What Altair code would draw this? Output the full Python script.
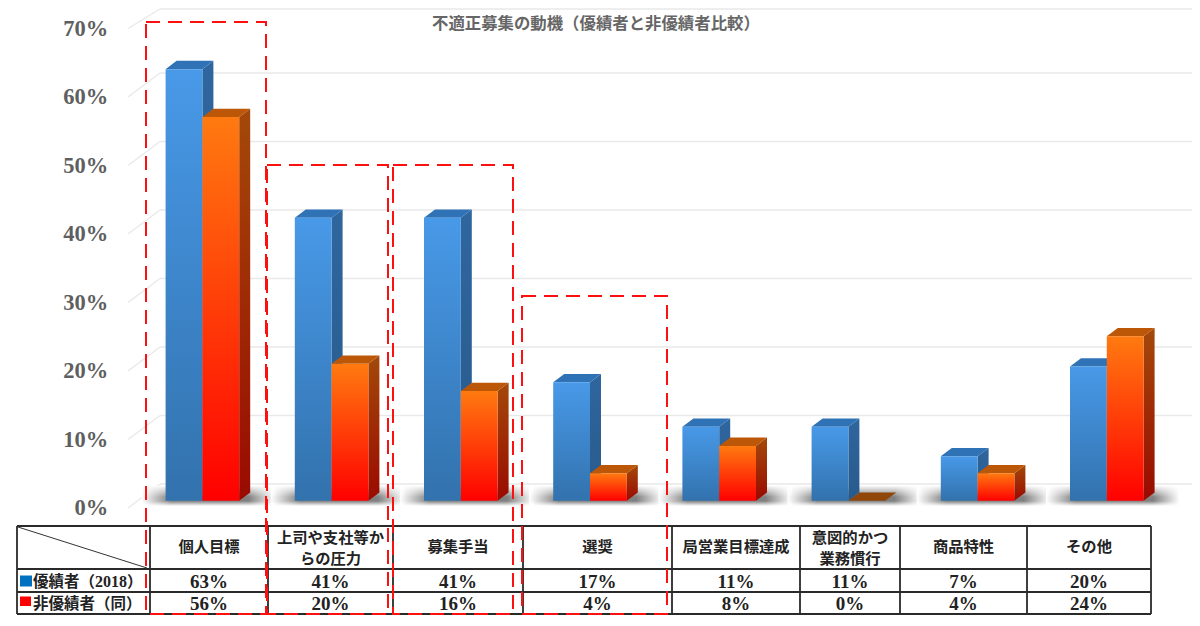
import altair as alt
import pandas as pd

# ---- chart values ----
categories = [["個人目標"], ["上司や支社等か", "らの圧力"], ["募集手当"], ["選奨"], ["局営業目標達成"],
              ["意図的かつ", "業務慣行"], ["商品特性"], ["その他"]]
top_performers = [63, 41, 41, 17, 11, 11, 7, 20]
other_performers = [56, 20, 16, 4, 8, 0, 4, 24]
# unrounded bar heights
top_heights = [63.0, 41.3, 41.3, 17.3, 10.8, 10.8, 6.5, 19.6]
other_heights = [56.0, 20.0, 16.0, 4.0, 8.0, 0.0, 4.0, 24.0]
axis_ticks = [0, 10, 20, 30, 40, 50, 60, 70]
title_text = "不適正募集の動機（優績者と非優績者比較）"

# ---- layout helpers (screen pixels <-> value scale) ----
Y0, PX = 500.7, 6.85
def yv(px):
    return (Y0 - px) / PX

XDOM = [8, 1192]
YDOM = [yv(618), yv(8)]
xs = alt.Scale(domain=XDOM, nice=False, zero=False)
ys = alt.Scale(domain=YDOM, nice=False, zero=False)

def X(f="x"):
    return alt.X(f"{f}:Q", scale=xs, axis=None)
def Y(f="y"):
    return alt.Y(f"{f}:Q", scale=ys, stack=False, title=None)

def lin(x2, y2, *stops):
    return alt.LinearGradient(gradient="linear", x1=0, x2=x2, y1=0, y2=y2,
                              stops=[alt.GradientStop(color=c, offset=o) for c, o in stops])
def grad(*stops):
    return lin(0, 1, *stops)

BAR_W, STEP, LEFT = 36.8, 129.2, 165.6
DX, DZ = 11.0, 8.3 / PX

layers = []

# y axis
layers.append(alt.Chart(pd.DataFrame({"y": axis_ticks})).mark_rule(opacity=0).encode(
    y=alt.Y("y:Q", scale=ys, stack=False, title=None,
            axis=alt.Axis(values=axis_ticks, labelExpr="datum.value + '%'", domain=False, ticks=False,
                          grid=False, offset=-99.7, labelPadding=0, labelOffset=7,
                          labelFont="Liberation Serif", labelFontWeight="bold", labelFontSize=22.5,
                          labelColor="#5f5f5f"))))

# wall grid lines
GRID = "#e9e9e9"
BACK = (Y0 - 484) / PX
FRONT = (Y0 - 508) / PX
top_limit = yv(9)
back = pd.DataFrame([{"x": 160, "x2": 1192, "y": min(v + BACK, top_limit)} for v in axis_ticks])
layers.append(alt.Chart(back).mark_rule(color=GRID, strokeWidth=1.6).encode(x=X(), x2="x2:Q", y=Y()))
side = pd.DataFrame([{"x": 128, "x2": 160, "y": v + FRONT, "y2": min(v + BACK, top_limit)} for v in axis_ticks])
layers.append(alt.Chart(side).mark_rule(color=GRID, strokeWidth=1.4).encode(x=X(), x2="x2:Q", y=Y(), y2="y2:Q"))

# floor shadows
shadow = pd.DataFrame([{"x": LEFT + i * STEP - 24, "x2": LEFT + i * STEP + 2 * BAR_W + 36,
                        "y": yv(486), "y2": yv(506)} for i in range(8)])
layers.append(alt.Chart(shadow).mark_rect(color=lin(1, 0, ("#ffffff", 0), ("#808080", 0.22),
                                                    ("#808080", 0.8), ("#ffffff", 1))).encode(
    x=X(), x2="x2:Q", y=Y(), y2="y2:Q"))
layers.append(alt.Chart(shadow).mark_rect(color=lin(0, 1, ("rgba(255,255,255,0.95)", 0), ("rgba(255,255,255,0)", 0.55),
                                                    ("rgba(255,255,255,0)", 0.75), ("rgba(255,255,255,1)", 1))).encode(
    x=X(), x2="x2:Q", y=Y(), y2="y2:Q"))

def faces(values, off, side_fill, top_fill, flat_fill):
    sd, tp = [], []
    for i, v in enumerate(values):
        l = LEFT + i * STEP + off
        r = l + BAR_W
        c = top_fill if v > 0 else flat_fill
        sd += [{"k": i, "x": r, "y": v, "y2": 0}, {"k": i, "x": r + DX, "y": v + DZ, "y2": DZ}]
        tp += [{"k": i, "x": l, "x2": r, "y": v, "c": c}, {"k": i, "x": l + DX, "x2": r + DX, "y": v + DZ, "c": c}]
    a = alt.Chart(pd.DataFrame([s for s in sd if values[s["k"]] > 0])).mark_area(color=side_fill).encode(
        x=X(), y=Y(), y2="y2:Q", detail="k:N")
    b = alt.Chart(pd.DataFrame(tp)).mark_area(orient="horizontal").encode(
        x=X(), x2="x2:Q", y=Y(), detail="k:N", color=alt.Color("c:N", scale=None))
    return [a, b]

def fronts(values, off, fill):
    df = pd.DataFrame([{"x": LEFT + i * STEP + off, "x2": LEFT + i * STEP + off + BAR_W, "y": v, "y2": 0}
                       for i, v in enumerate(values) if v > 0])
    return alt.Chart(df).mark_bar(color=fill).encode(x=X(), x2="x2:Q", y=Y(), y2="y2:Q")

layers += faces(top_heights, 0, grad(("#2f669e", 0), ("#285a8c", 1)), "#2f72b6", "#2f72b6")
layers += faces(other_heights, BAR_W, grad(("#a3490a", 0), ("#9a0a00", 1)), "#bd5708", "#8f4608")
layers.append(fronts(top_heights, 0, grad(("#4899e8", 0), ("#3272ad", 1))))
layers.append(fronts(other_heights, BAR_W, grad(("#ff7a10", 0), ("#ff0000", 1))))

# table
hl = [526, 569, 592, 614]
vl = [17, 150, 268, 393, 523, 672, 800, 900, 1027, 1151]
lines = pd.DataFrame([{"x": 17, "x2": 1151, "y": yv(p)} for p in hl])
layers.append(alt.Chart(lines).mark_rule(color="#2a2a2a", strokeWidth=1.8).encode(x=X(), x2="x2:Q", y=Y()))
lines = pd.DataFrame([{"x": p, "y": yv(526), "y2": yv(614)} for p in vl])
layers.append(alt.Chart(lines).mark_rule(color="#2a2a2a", strokeWidth=1.8).encode(x=X(), y=Y(), y2="y2:Q"))
diag = pd.DataFrame([{"x": 18, "x2": 147, "y": yv(527), "y2": yv(568)}])
layers.append(alt.Chart(diag).mark_rule(color="#333333", strokeWidth=1).encode(x=X(), x2="x2:Q", y=Y(), y2="y2:Q"))

centers = [(vl[i] + vl[i + 1]) / 2 for i in range(1, 9)]
cat_rows = []
for c, lab in zip(centers, categories):
    if len(lab) == 1:
        cat_rows.append({"x": c, "y": yv(547), "t": lab[0]})
    else:
        cat_rows.append({"x": c, "y": yv(537.5), "t": lab[0]})
        cat_rows.append({"x": c, "y": yv(558.5), "t": lab[1]})
CJK = "Noto Sans CJK JP"
layers.append(alt.Chart(pd.DataFrame(cat_rows)).mark_text(font=CJK, fontWeight="bold", fontSize=15.3, color="#222222",
                                                          align="center", baseline="middle").encode(x=X(), y=Y(), text="t:N"))
val_rows = [{"x": c, "y": yv(581.5), "t": f"{v}%"} for c, v in zip(centers, top_performers)]
val_rows += [{"x": c, "y": yv(603.5), "t": f"{v}%"} for c, v in zip(centers, other_performers)]
layers.append(alt.Chart(pd.DataFrame(val_rows)).mark_text(font="Liberation Serif", fontWeight="bold", fontSize=19, color="#222222",
                                                          align="center", baseline="middle").encode(x=X(), y=Y(), text="t:N"))

# row headers with legend keys
keys = pd.DataFrame([{"x": 20, "x2": 32, "y": yv(575.5), "y2": yv(586.5), "c": "#0070c0"},
                     {"x": 20, "x2": 31, "y": yv(596.5), "y2": yv(606), "c": "#ff0000"}])
layers.append(alt.Chart(keys).mark_rect().encode(x=X(), x2="x2:Q", y=Y(), y2="y2:Q",
                                                 color=alt.Color("c:N", scale=None)))
hdr = pd.DataFrame([{"x": 33, "y": yv(581.5), "t": "優績者（"}, {"x": 127, "y": yv(581.5), "t": "）"},
                    {"x": 33, "y": yv(603.5), "t": "非優績者（同）"}])
layers.append(alt.Chart(hdr).mark_text(font=CJK, fontWeight="bold", fontSize=15.5, color="#222222",
                                       align="left", baseline="middle").encode(x=X(), y=Y(), text="t:N"))
yr = pd.DataFrame([{"x": 95, "y": yv(581.5), "t": "2018"}])
layers.append(alt.Chart(yr).mark_text(font="Liberation Serif", fontWeight="bold", fontSize=16, color="#222222",
                                      align="left", baseline="middle").encode(x=X(), y=Y(), text="t:N"))

# highlight boxes
boxes = pd.DataFrame([
    {"k": 0, "x": 146, "x2": 266, "y": yv(22), "y2": yv(614)},
    {"k": 1, "x": 267, "x2": 388, "y": yv(165), "y2": yv(614)},
    {"k": 2, "x": 393, "x2": 513, "y": yv(165), "y2": yv(614)},
    {"k": 3, "x": 522, "x2": 667, "y": yv(296), "y2": yv(614)},
])
layers.append(alt.Chart(boxes).mark_rect(fillOpacity=0, stroke="#ff1010", strokeWidth=2, strokeDash=[14, 8]).encode(
    x=X(), x2="x2:Q", y=Y(), y2="y2:Q"))

# title
ttl = pd.DataFrame([{"x": 432, "y": yv(24), "t": title_text}])
layers.append(alt.Chart(ttl).mark_text(font=CJK, fontWeight="bold", fontSize=16.4, color="#666666",
                                       align="left", baseline="middle").encode(x=X(), y=Y(), text="t:N"))

chart = alt.layer(*layers).properties(
    width=1184, height=610, padding=0, autosize=alt.AutoSizeParams(type="none"), background="#ffffff"
).configure_view(stroke=None)

chart.save("out.html", embed_options={"renderer": "svg", "actions": False})
